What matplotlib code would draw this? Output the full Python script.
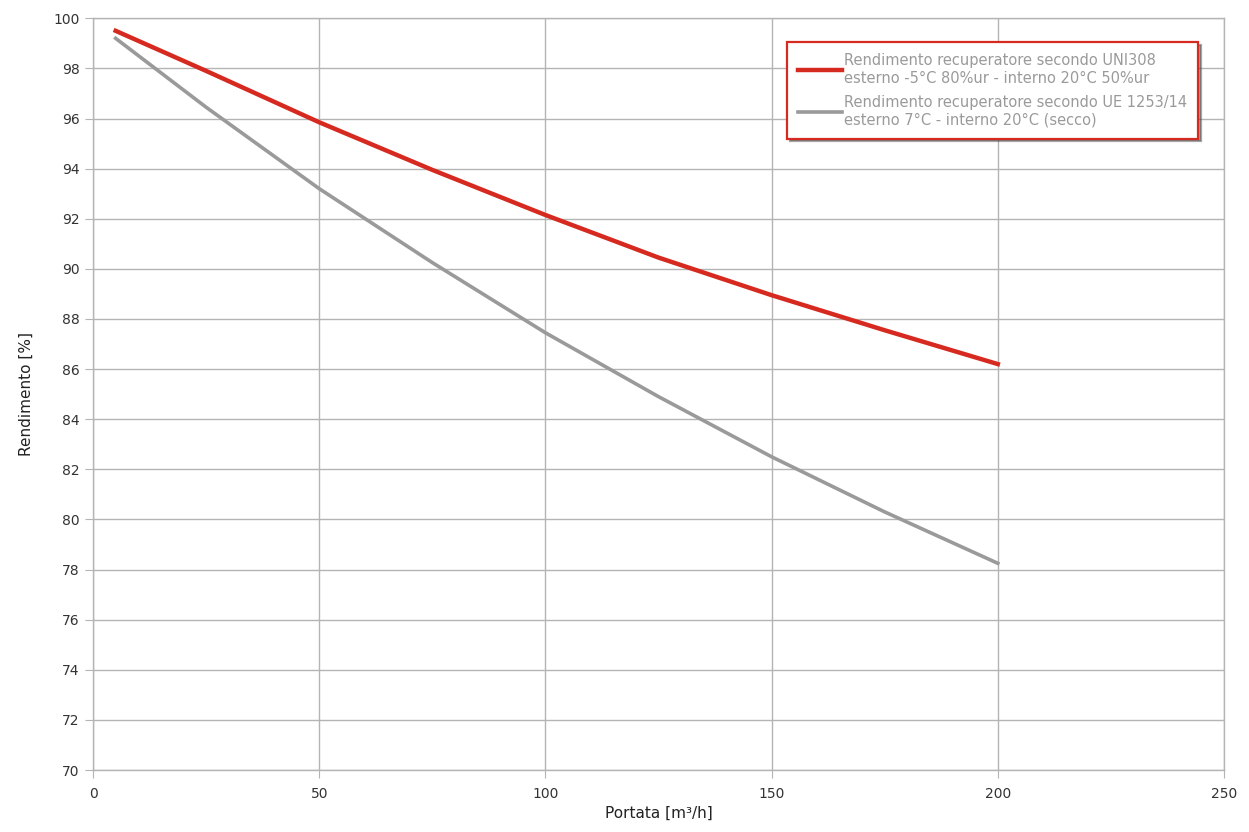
import matplotlib
matplotlib.use('Agg')
import matplotlib.pyplot as plt

# portata [m3/h] e rendimento [%]
portata = [5, 25, 50, 75, 100, 125, 150, 175, 200]
rend_uni = [99.5, 97.9, 95.85, 93.95, 92.15, 90.45, 88.95, 87.55, 86.2]
rend_ue = [99.2, 96.45, 93.2, 90.25, 87.45, 84.9, 82.5, 80.3, 78.25]

label_uni = 'Rendimento recuperatore secondo UNI308\nesterno -5°C 80%ur - interno 20°C 50%ur'
label_ue = 'Rendimento recuperatore secondo UE 1253/14\nesterno 7°C - interno 20°C (secco)'

x_ticks = [0, 50, 100, 150, 200, 250]
y_ticks = list(range(70, 101, 2))


def main():
    fig = plt.figure(figsize=(12.49, 8.32), dpi=100)
    ax = fig.add_axes([0.0745, 0.0745, 0.9055, 0.9035])

    ax.plot(portata, rend_uni, color='#d62a20', linewidth=3.2,
            solid_joinstyle='round', label=label_uni)
    ax.plot(portata, rend_ue, color='#9a9a9a', linewidth=2.6,
            solid_joinstyle='round', label=label_ue)

    ax.set_xlim(0, 250)
    ax.set_ylim(70, 100)
    ax.set_xticks(x_ticks)
    ax.set_yticks(y_ticks)
    ax.grid(True, color='#b4b4b4', linewidth=1.0)
    ax.set_axisbelow(True)
    for s in ax.spines.values():
        s.set_color('#b4b4b4')
        s.set_linewidth(1.0)
    ax.tick_params(axis='both', colors='#b4b4b4', labelcolor='#333333',
                   labelsize=10, length=6, direction='out')
    ax.tick_params(axis='x', pad=6)

    ax.set_xlabel('Portata [m³/h]', fontsize=11, color='#222222', labelpad=4)
    ax.set_ylabel('Rendimento [%]', fontsize=11, color='#222222', labelpad=14)

    leg = ax.legend(loc='upper right', bbox_to_anchor=(0.977, 0.968),
                    borderaxespad=0.0,
                    fontsize=10.5, handlelength=3.0, handletextpad=0.15,
                    borderpad=0.75, labelspacing=0.65, fancybox=False,
                    framealpha=1.0, shadow=True)
    leg.get_frame().set_edgecolor('#d62a20')
    leg.get_frame().set_linewidth(1.6)
    for t in leg.get_texts():
        t.set_color('#9a9a9a')

    plt.savefig('out.png', dpi=100)


if __name__ == '__main__':
    main()
